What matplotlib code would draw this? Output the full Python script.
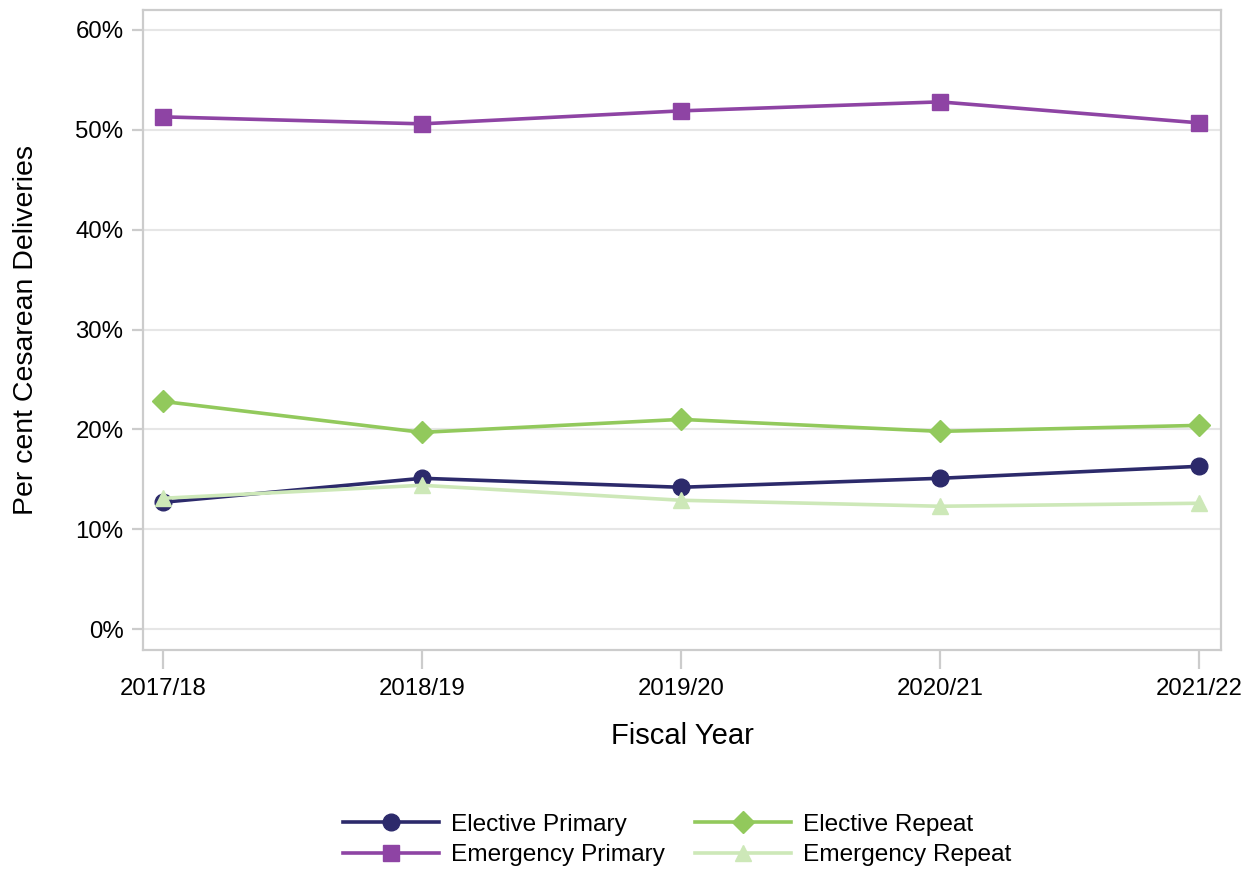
import matplotlib
matplotlib.use("Agg")
import matplotlib.pyplot as plt
from matplotlib.ticker import FuncFormatter

plt.rcParams["font.family"] = ["Liberation Sans", "DejaVu Sans"]

years = ["2017/18", "2018/19", "2019/20", "2020/21", "2021/22"]
elective_primary = [12.7, 15.1, 14.2, 15.1, 16.3]
emergency_primary = [51.3, 50.6, 51.9, 52.8, 50.7]
elective_repeat = [22.8, 19.7, 21.0, 19.8, 20.4]
emergency_repeat = [13.1, 14.4, 12.9, 12.3, 12.6]

series = [
    ("Elective Primary", elective_primary, "#2c2a6b", "o", 12),
    ("Emergency Primary", emergency_primary, "#8e44a4", "s", 11),
    ("Elective Repeat", elective_repeat, "#92c95c", "D", 11),
    ("Emergency Repeat", emergency_repeat, "#cde8b8", "^", 12),
]

fig = plt.figure(figsize=(12.51, 8.71), dpi=100)
ax = fig.add_axes([0.1143, 0.2537, 0.8617, 0.7348])
x = list(range(len(years)))
for name, vals, col, mk, ms in series:
    ax.plot(x, vals, color=col, lw=2.6, marker=mk, ms=ms, label=name)

ax.set_xlim(-0.077, 4.085)
ax.set_ylim(-2.1, 62)
ax.set_yticks(range(0, 61, 10))
ax.yaxis.set_major_formatter(FuncFormatter(lambda v, p: f"{v:.0f}%"))
ax.set_xticks(x)
ax.set_xticklabels(years)
ax.grid(axis="y", color="#e6e6e6", lw=1.5)
ax.set_axisbelow(True)
for s in ax.spines.values():
    s.set_color("#cccccc")
    s.set_linewidth(1.6)
ax.tick_params(axis="y", length=8, width=1.6, color="#cccccc", labelsize=17.3, pad=6)
ax.tick_params(axis="x", length=14, width=1.6, color="#cccccc", labelsize=17.3, pad=6)
ax.set_xlabel("Fiscal Year", fontsize=21, labelpad=16)
ax.set_ylabel("Per cent Cesarean Deliveries", fontsize=20.5, labelpad=26)

fig.legend(loc="center", bbox_to_anchor=(0.5414, 0.0355), ncol=2, frameon=False,
           fontsize=17.6, handlelength=3.9, columnspacing=1.25, labelspacing=0.35,
           handletextpad=0.5)
fig.savefig("out.png", dpi=100)
